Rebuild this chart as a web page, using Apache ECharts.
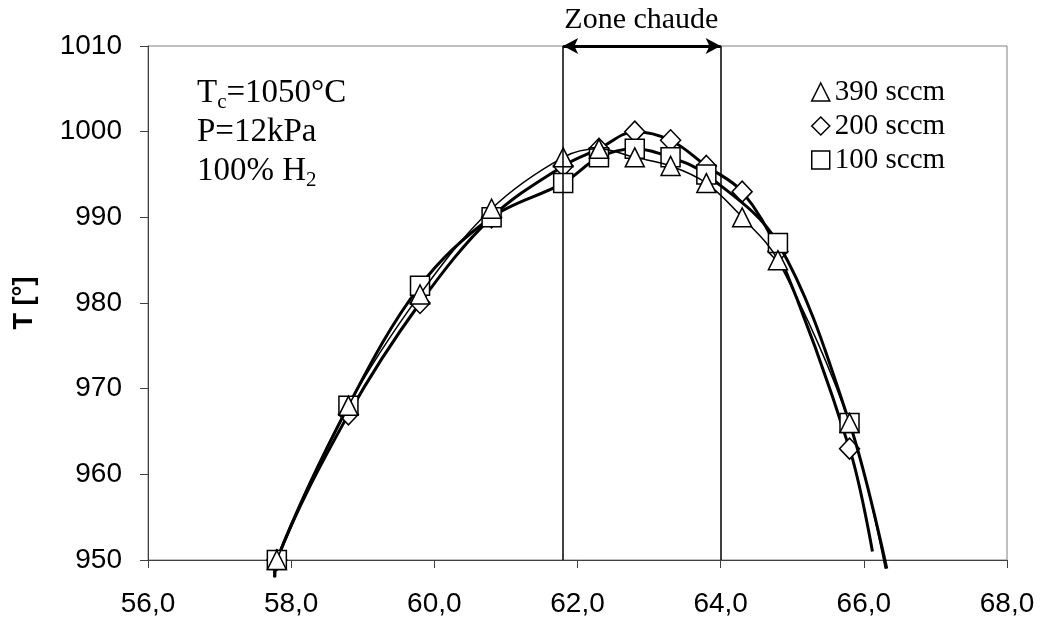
<!DOCTYPE html>
<html><head><meta charset="utf-8">
<script src="https://cdn.jsdelivr.net/npm/echarts@6/dist/echarts.min.js"></script>
<style>html,body{margin:0;padding:0;background:#fff}#c{width:1042px;height:626px}</style>
</head><body><div id="c"></div>
<script>
// ---- data ----
const xMin = 56, xMax = 68, xStep = 2;
const yMin = 950, yMax = 1010, yStep = 10;
const seriesNames = ['390 sccm', '200 sccm', '100 sccm'];
const x390 = [57.8, 58.8, 59.8, 60.8, 61.8, 62.3, 62.8, 63.3, 63.8, 64.3, 64.8, 65.8];
const y390 = [950, 968, 981, 991, 997, 998, 997, 996, 994, 990, 985, 966];
const x200 = [57.8, 58.8, 59.8, 60.8, 61.8, 62.3, 62.8, 63.3, 63.8, 64.3, 64.8, 65.8];
const y200 = [950, 967, 980, 990, 996, 998, 1000, 999, 996, 993, 986, 963];
const x100 = [57.8, 58.8, 59.8, 60.8, 61.8, 62.3, 62.8, 63.3, 63.8, 64.8, 65.8];
const y100 = [950, 968, 982, 990, 994, 997, 998, 997, 995, 987, 966];
// curve extensions drawn without markers
const curveStart = [57.77, 948];
const end390 = [66.3, 949];
const end200 = [66.12, 951];
const end100 = [66.32, 949];
const hotZone = [61.8, 64.0];
const hotZoneLabel = 'Zone chaude';

function build(xs, ys, end) {
  const d = [{ value: curveStart, symbol: 'none' }];
  xs.forEach((x, i) => d.push([x, ys[i]]));
  d.push({ value: end, symbol: 'none' });
  return d;
}

const serif = 'Liberation Serif, Times New Roman, serif';
const sans = 'Liberation Sans, Arial, sans-serif';
const markerStyle = { color: '#fff', borderColor: '#000', borderWidth: 1.5 };

const chart = echarts.init(document.getElementById('c'), null, { renderer: 'canvas' });

chart.setOption({
  animation: false,
  backgroundColor: '#fff',
  grid: { left: 148, right: 35, top: 46, bottom: 66, show: true, borderColor: '#808080', borderWidth: 1 },
  xAxis: {
    type: 'value', min: xMin, max: xMax, interval: xStep,
    axisLine: { lineStyle: { color: '#404040', width: 1 } },
    axisTick: { show: true, inside: false, length: 8, lineStyle: { color: '#404040' } },
    splitLine: { show: false },
    axisLabel: { margin: 30, color: '#000', fontFamily: sans, fontSize: 28,
      formatter: v => v.toFixed(1).replace('.', ',') }
  },
  yAxis: {
    type: 'value', min: yMin, max: yMax, interval: yStep,
    name: 'T [°]', nameLocation: 'middle', nameRotate: 90, nameGap: 110,
    nameTextStyle: { fontFamily: sans, fontSize: 27, fontWeight: 'bold', color: '#000' },
    axisLine: { show: true, lineStyle: { color: '#404040', width: 1 } },
    axisTick: { show: true, inside: false, length: 8, lineStyle: { color: '#404040' } },
    splitLine: { show: false },
    axisLabel: { margin: 26, color: '#000', fontFamily: sans, fontSize: 28,
      formatter: v => String(v) }
  },
  legend: {
    orient: 'vertical', left: 806, top: 72, itemWidth: 18, itemHeight: 18, itemGap: 4,
    itemStyle: markerStyle,
    textStyle: { fontFamily: serif, fontSize: 29, lineHeight: 30, color: '#000' },
    data: [
      { name: seriesNames[0], icon: 'triangle' },
      { name: seriesNames[1], icon: 'diamond' },
      { name: seriesNames[2], icon: 'rect' }
    ]
  },
  graphic: [
    { type: 'text', x: 197, y: 74, silent: true,
      style: {
        text: '{m|T}{s|c}{m|=1050°C}\n{m|P=12kPa}\n{m|100% H}{s|2}',
        fill: '#000', font: '33px ' + serif,
        rich: {
          m: { fontFamily: serif, fontSize: 33, lineHeight: 39, fill: '#000', color: '#000' },
          s: { fontFamily: serif, fontSize: 21, lineHeight: 21, verticalAlign: 'bottom', fill: '#000', color: '#000' }
        }
      } },
    { type: 'text', x: (148 + (hotZone[0] - xMin) * 71.5 + 148 + (hotZone[1] - xMin) * 71.5) / 2, y: 20, silent: true,
      style: { text: hotZoneLabel, fill: '#000', font: '30px ' + serif, textAlign: 'center', textVerticalAlign: 'middle' } }
  ],
  series: [
    {
      name: seriesNames[1], type: 'line', smooth: 0.35, clip: false,
      symbol: 'diamond', symbolSize: [20, 21], showAllSymbol: true,
      itemStyle: markerStyle, lineStyle: { color: '#000', width: 3 },
      emphasis: { disabled: true }, z: 2,
      data: build(x200, y200, end200)
    },
    {
      name: seriesNames[2], type: 'line', smooth: 0.35, clip: false,
      symbol: 'rect', symbolSize: 19, showAllSymbol: true,
      itemStyle: markerStyle, lineStyle: { color: '#000', width: 3 },
      emphasis: { disabled: true }, z: 3,
      data: build(x100, y100, end100)
    },
    {
      name: seriesNames[0], type: 'line', smooth: 0.35, clip: false,
      symbol: 'triangle', symbolSize: 19, showAllSymbol: true,
      itemStyle: markerStyle, lineStyle: { color: '#000', width: 1.5 },
      emphasis: { disabled: true }, z: 4,
      data: build(x390, y390, end390),
      markLine: {
        silent: true, symbol: ['none', 'none'], label: { show: false },
        lineStyle: { color: '#000', width: 1.5, type: 'solid' },
        emphasis: { disabled: true },
        data: [
          { xAxis: hotZone[0] },
          { xAxis: hotZone[1] },
          [
            { coord: [hotZone[0], yMax], symbol: 'arrow', symbolSize: [12, 15], lineStyle: { width: 3, color: '#000', type: 'solid' } },
            { coord: [hotZone[1], yMax], symbol: 'arrow', symbolSize: [12, 15] }
          ]
        ]
      }
    }
  ]
});
</script>
</body></html>
